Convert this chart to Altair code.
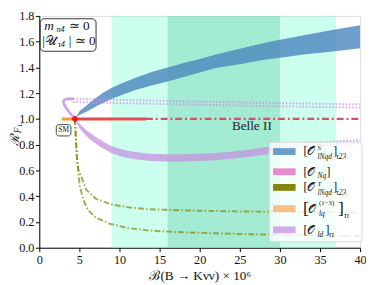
import altair as alt
import pandas as pd

# ---------------- data ----------------
x_ticks = [0, 5, 10, 15, 20, 25, 30, 35, 40]
y_ticks = [0.0, 0.2, 0.4, 0.6, 0.8, 1.0, 1.2, 1.4, 1.6, 1.8]

band_outer = [9, 37]      # Belle II 2 sigma
band_inner = [16, 30]     # Belle II 1 sigma

sm_x = [4.44]
sm_y = [1.0]

# [O^S_lNqd]_tau23 band
blue_x = [4.44, 5, 6, 7, 8, 9, 10, 12, 14, 16, 18, 20, 22, 25, 28, 30, 33, 36, 40]
blue_hi = [1.0, 1.06, 1.11, 1.16, 1.205, 1.24, 1.27, 1.32, 1.365, 1.40, 1.435, 1.465, 1.50, 1.545, 1.59, 1.615, 1.65, 1.685, 1.728]
blue_lo = [1.0, 1.03, 1.06, 1.095, 1.125, 1.155, 1.18, 1.225, 1.26, 1.29, 1.325, 1.36, 1.395, 1.425, 1.46, 1.476, 1.50, 1.52, 1.549]

# [O_ld]_tautau band (solid part) and dotted parts
purple_x = [4.44, 5.0, 5.6, 6.25, 7.0, 7.5, 8.2, 8.9, 10, 11, 12, 13, 14, 16, 18, 20, 22, 24, 26, 28, 30]
purple_hi = [1.0, 0.966, 0.927, 0.895, 0.861, 0.842, 0.817, 0.792, 0.768, 0.753, 0.743, 0.735, 0.730, 0.725, 0.726, 0.730, 0.736, 0.746, 0.760, 0.778, 0.798]
purple_lo = [1.0, 0.930, 0.883, 0.845, 0.809, 0.788, 0.763, 0.738, 0.712, 0.697, 0.687, 0.679, 0.674, 0.669, 0.670, 0.674, 0.680, 0.690, 0.704, 0.722, 0.742]
pdot_low_x = [30, 35, 40]
pdot_low_a = [0.805, 0.818, 0.835]
pdot_low_b = [0.782, 0.795, 0.81]
hook_x = [4.44, 4.1, 3.7, 3.35, 3.1, 3.0, 3.05, 3.3, 3.7, 4.2]
hook_y = [1.0, 1.025, 1.055, 1.085, 1.11, 1.13, 1.145, 1.154, 1.157, 1.156]
pdot_up_x = [4.2, 10, 20, 30, 40]
pdot_up_a = [1.157, 1.148, 1.135, 1.123, 1.113]
pdot_up_b = [1.132, 1.123, 1.11, 1.098, 1.088]

# [O^T_lNqd]_tau23 curves
olive_a_x = [4.44, 4.55, 4.65, 4.75, 4.9, 5.24, 5.85, 7.06, 8.9, 11.1, 13.5, 15.6, 18, 22, 26, 30, 35, 40]
olive_a_y = [1.0, 0.86, 0.74, 0.65, 0.6, 0.55, 0.45, 0.38, 0.338, 0.314, 0.30, 0.295, 0.29, 0.285, 0.281, 0.279, 0.276, 0.274]
olive_b_x = [4.44, 4.55, 4.65, 4.75, 4.85, 5.04, 5.5, 6.05, 7.06, 8.9, 11.1, 13.5, 16, 18, 22, 26, 30, 35, 40]
olive_b_y = [1.0, 0.86, 0.74, 0.66, 0.6, 0.48, 0.37, 0.294, 0.233, 0.184, 0.152, 0.135, 0.125, 0.12, 0.112, 0.105, 0.1, 0.095, 0.09]

# lines at R = 1
orange_x = [2.8, 4.44]
orange_y = [1.0, 1.0]
red_x = [4.44, 13.3]
red_y = [1.0, 1.0]
reddash_x = [13.3, 40]
reddash_y = [1.0, 1.0]

legend_colors = ["#4a86be", "#e377c2", "#808000", "#ffa040", "#c591e0"]
legend_opac = [0.8, 0.85, 0.95, 0.65, 0.75]

# ---------------- layout helpers ----------------
PADL = 32
PADT = 5
W, H = 328, 237
SERIF = "Liberation Serif"


def X(p):
    return p - (8 + PADL)


def Ym(p):
    return (p - 4) * H / 246


def Yb(p):
    return H - (250 - p)


xs = alt.Scale(domain=[0, 40], nice=False, zero=False)
ys = alt.Scale(domain=[0, 1.8], nice=False, zero=False)

x_axis = alt.Axis(values=x_ticks, format="d", title="ℬ(B → Kνν) × 10⁶", grid=False,
                  tickSize=4, tickColor="black", domainColor="black", labelFlush=False,
                  labelFont=SERIF, labelFontSize=12.5, labelColor="#111", labelPadding=2,
                  titleFont=SERIF, titleFontSize=13.5, titleFontWeight="normal",
                  titleColor="#111", titlePadding=3)
y_axis = alt.Axis(values=y_ticks, format=".1f", title=None, grid=False,
                  tickSize=4, tickColor="black", domainColor="black", labelFlush=False,
                  labelFont=SERIF, labelFontSize=12.5, labelColor="#111", labelPadding=1.5)


def XE(f):
    return alt.X(f, type="quantitative", scale=xs, axis=x_axis)


def YE(f):
    return alt.Y(f, type="quantitative", scale=ys, axis=y_axis)


# ---------------- layers ----------------
bands_df = pd.DataFrame({"x0": [band_outer[0], band_inner[0]],
                         "x1": [band_outer[1], band_inner[1]],
                         "c": ["#7fffd4", "#66cdaa"]})
bands = alt.Chart(bands_df).mark_rect(opacity=0.4).encode(
    x=XE("x0"), x2="x1", y=alt.value(0), y2=alt.value(H),
    color=alt.Color("c:N", scale=None))


def area(xv, lo, hi, color, op):
    df = pd.DataFrame({"x": xv, "lo": lo, "hi": hi})
    return alt.Chart(df).mark_area(color=color, opacity=op, clip=True).encode(
        x=XE("x"), y=YE("lo"), y2="hi")


def line(xv, yv, color, width, dash=None, op=1.0, cap="butt"):
    df = pd.DataFrame({"x": xv, "y": yv, "i": list(range(len(xv)))})
    kw = dict(color=color, strokeWidth=width, opacity=op, clip=True, strokeCap=cap)
    if dash:
        kw["strokeDash"] = dash
    return alt.Chart(df).mark_line(**kw).encode(x=XE("x"), y=YE("y"), order="i:Q")


blue = area(blue_x, blue_lo, blue_hi, "#4a86be", 0.8)
purple = area(purple_x, purple_lo, purple_hi, "#c591e0", 0.75)
pcol = "#cf8fe6"
pd1 = line(pdot_low_x, pdot_low_a, pcol, 2.2, [1.6, 1.8], 0.85)
pd2 = line(pdot_low_x, pdot_low_b, pcol, 2.2, [1.6, 1.8], 0.85)
pd3 = line(pdot_up_x, pdot_up_a, pcol, 2.0, [1.6, 1.8], 0.75)
pd4 = line(pdot_up_x, pdot_up_b, pcol, 2.0, [1.6, 1.8], 0.75)
hook = line(hook_x, hook_y, "#cf95e6", 2.6, None, 0.9, "round")
ol1 = line(olive_a_x, olive_a_y, "#8c8a10", 2.0, [6, 2.2, 1.6, 2.2], 0.72)
ol2 = line(olive_b_x, olive_b_y, "#8c8a10", 2.0, [6, 2.2, 1.6, 2.2], 0.72)
orange = line(orange_x, orange_y, "#ff9a30", 3.0)
red = line(red_x, red_y, "#e24c4c", 3.0)
reddash = line(reddash_x, reddash_y, "#d4506e", 2.4, [7, 3, 2, 3])

sm_df = pd.DataFrame({"x": sm_x, "y": sm_y})
sm = alt.Chart(sm_df).mark_point(shape="diamond", filled=True, color="#ff1010",
                                  size=55, opacity=1).encode(x=XE("x"), y=YE("y"))

# SM label box and Belle II label (data coordinates)
smbox_df = pd.DataFrame({"x0": [2.12], "x1": [3.94], "y0": [0.868], "y1": [0.956]})
smbox = alt.Chart(smbox_df).mark_rect(fill="white", stroke="#333", strokeWidth=0.9,
                                      cornerRadius=2.5).encode(
    x=XE("x0"), x2="x1", y=YE("y0"), y2="y1")
smtxt = alt.Chart(pd.DataFrame({"x": [3.03], "y": [0.912], "t": ["SM"]})).mark_text(
    font=SERIF, fontSize=7.5, color="#111", baseline="middle").encode(
    x=XE("x"), y=YE("y"), text="t:N")
belle = alt.Chart(pd.DataFrame({"x": [26.5], "y": [0.945], "t": ["Belle II"]})).mark_text(
    font=SERIF, fontSize=13.5, color="#222", baseline="middle").encode(
    x=XE("x"), y=YE("y"), text="t:N")

# top-left box
one = pd.DataFrame({"a": [0]})
tlbox = alt.Chart(one).mark_rect(fill="white", stroke="#333", strokeWidth=1,
                                 cornerRadius=4).encode(
    x=alt.value(X(41)), x2=alt.value(X(98)), y=alt.value(Ym(7)), y2=alt.value(Ym(41.5)))

# legend box
legbox = alt.Chart(one).mark_rect(fill="white", fillOpacity=0.8, stroke="#d4d4d4",
                                  strokeWidth=1, cornerRadius=3).encode(
    x=alt.value(X(275)), x2=alt.value(X(370)), y=alt.value(Yb(142)), y2=alt.value(Yb(244)))

row_c = [151.7, 172.3, 188.3, 210.0, 231.7]
patch_df = pd.DataFrame({
    "x0": [X(279)] * 5, "x1": [X(302)] * 5,
    "y0": [Yb(c) - 3.5 for c in row_c], "y1": [Yb(c) + 3.5 for c in row_c],
    "c": legend_colors, "o": legend_opac})
patches = alt.Chart(patch_df).mark_rect().encode(
    x=alt.X("x0:Q", scale=None, axis=None), x2="x1:Q",
    y=alt.Y("y0:Q", scale=None, axis=None), y2="y1:Q",
    color=alt.Color("c:N", scale=None), opacity=alt.Opacity("o:Q", scale=None))

# text pieces: (x, y, text, size, italic)
pieces = []


def P(x, y, t, s, it=False):
    pieces.append({"px": x, "py": y, "t": t, "fs": s, "it": it})


# legend labels
for k, lab in [(0, "S"), (2, "T")]:
    c = Yb(row_c[k])
    P(X(310), c + 4, "[", 12)
    P(X(313.5), c + 4, "𝒪", 12)
    P(X(324.5), c - 1.5, lab, 7, True)
    P(X(324.5), c + 7.5, "lNqd", 7.5, True)
    P(X(340.5), c + 4, "]", 12)
    P(X(343.5), c + 7.5, "τ23", 7.5, True)
c = Yb(row_c[1])
P(X(310), c + 4, "[", 12)
P(X(313.5), c + 4, "𝒪", 12)
P(X(324.5), c + 6.5, "Nq", 7.5, True)
P(X(333.5), c + 4, "]", 12)
c = Yb(row_c[3])
P(X(309.5), c + 6, "[", 18)
P(X(315), c + 4, "𝒪", 12)
P(X(326), c - 3.5, "(1−3)", 7)
P(X(326), c + 8, "lq", 7.5, True)
P(X(345.5), c + 6, "]", 18)
P(X(351.5), c + 10, "ττ", 7.5, True)
c = Yb(row_c[4])
P(X(310), c + 4, "[", 12)
P(X(313.5), c + 4, "𝒪", 12)
P(X(324.5), c + 7.5, "ld", 7.5, True)
P(X(332.5), c + 4, "]", 12)
P(X(336), c + 7.5, "ττ", 7.5, True)

# top-left box text
P(X(45), Ym(19), "m", 13.5, True)
P(X(57.5), Ym(21.5), "n4", 8.5, True)
P(X(70), Ym(19), "≃ 0", 13.5)
P(X(43), Ym(34.5), "|𝒰", 13.5)
P(X(59), Ym(37), "τ4", 8.5, True)
P(X(70), Ym(34.5), "| ≃ 0", 13.5)

pieces_df = pd.DataFrame(pieces)


def text_layer(it):
    df = pieces_df[pieces_df["it"] == it]
    return alt.Chart(df).mark_text(
        font=SERIF, align="left", baseline="alphabetic", color="#111",
        fontStyle="italic" if it else "normal").encode(
        x=alt.X("px:Q", scale=None, axis=None), y=alt.Y("py:Q", scale=None, axis=None),
        text="t:N", size=alt.Size("fs:Q", scale=None))


# y-axis title (rotated), centred pieces
ytitle_df = pd.DataFrame({
    "px": [X(15.5), X(18), X(20)],
    "py": [Ym(136), Ym(125.5), Ym(119.5)],
    "t": ["ℛ", "F", "L"],
    "fs": [13, 9.5, 7],
})
ytitle = alt.Chart(ytitle_df).mark_text(
    font=SERIF, align="center", baseline="middle", color="#111", angle=270,
    fontStyle="italic").encode(
    x=alt.X("px:Q", scale=None, axis=None), y=alt.Y("py:Q", scale=None, axis=None),
    text="t:N", size=alt.Size("fs:Q", scale=None))

chart = alt.layer(
    bands, blue, purple, pd1, pd2, pd3, pd4, hook, ol1, ol2, orange, red, reddash, sm,
    smbox, smtxt, belle, tlbox, legbox, patches, text_layer(False), text_layer(True), ytitle
).properties(
    width=W, height=H,
    autosize=alt.AutoSizeParams(type="none"),
    padding={"left": PADL, "top": PADT, "right": 6, "bottom": 35},
).configure_view(stroke="black", strokeWidth=1).configure(background="white")

chart.save("out.html", embed_options={"renderer": "svg", "actions": False})
